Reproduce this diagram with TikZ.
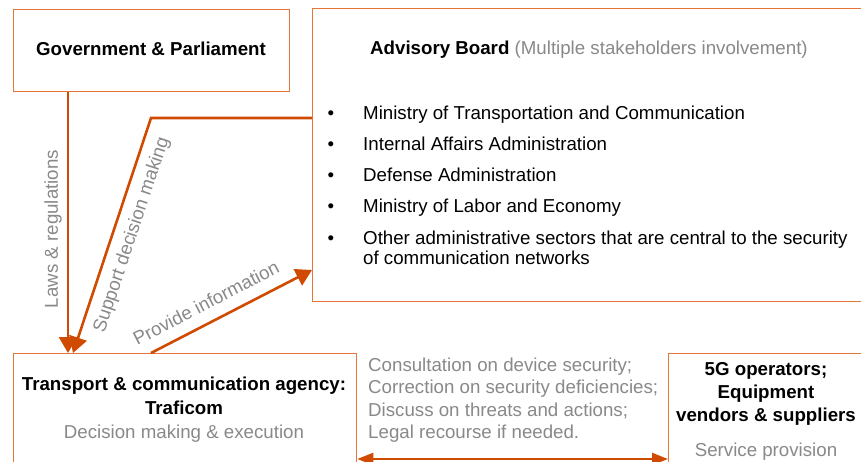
\documentclass[tikz,border=0pt]{standalone}
\usepackage{fontspec}
\setmainfont{Liberation Sans}
\usetikzlibrary{arrows.meta}
\definecolor{boxline}{HTML}{E57638}
\definecolor{accent}{HTML}{D04A02}
\definecolor{soft}{HTML}{898989}
\tikzset{
  box/.style={draw=boxline, line width=1.3pt, inner sep=0pt, anchor=north west},
  txt/.style={font=\fontsize{18.7}{22.4}\selectfont, inner sep=0pt},
  head/.style={txt, font=\fontsize{18.7}{22.4}\selectfont\bfseries},
  note/.style={txt, text=soft},
  flow/.style={draw=accent, line width=2.6pt, -{Triangle[length=16pt,width=18pt]}},
  both/.style={draw=accent, line width=2.4pt, {Triangle[length=16pt,width=12pt]}-{Triangle[length=16pt,width=12pt]}},
}
\begin{document}
\begin{tikzpicture}[x=1pt,y=-1pt]
\useasboundingbox (0,0) rectangle (861,462);
\clip (0,0) rectangle (861,462);
\fill[white] (0,0) rectangle (861,462);

% boxes
\node[box, minimum width=276, minimum height=82] (gov) at (13,9) {};
\node[box, minimum width=588, minimum height=293] (adv) at (312,8) {};
\node[box, minimum width=343, minimum height=150] (traf) at (13,353) {};
\node[box, minimum width=232, minimum height=150] (ops) at (668,353) {};

% government
\node[head, anchor=base] (govt) at (151,55.5) {Government \& Parliament};

% advisory board
\node[txt, anchor=base west] (advt) at (370,55) {\textbf{Advisory Board} \textcolor{soft}{(Multiple stakeholders involvement)}};
\foreach \y/\t [count=\i] in {120/Ministry of Transportation and Communication,
                               151/Internal Affairs Administration,
                               182/Defense Administration,
                               213/Ministry of Labor and Economy,
                               244/Other administrative sectors that are central to the security} {
  \node[txt, anchor=base] (dot\i) at (331,\y) {•};
  \node[txt, anchor=base west] (item\i) at (363,\y) {\t};
}
\node[txt, anchor=base west] (item6) at (363,264) {of communication networks};

% agency
\node[head, anchor=base] (traf1) at (184,390.5) {Transport \& communication agency:};
\node[head, anchor=base] (traf2) at (184,414.5) {Traficom};
\node[note, anchor=base] (traf3) at (184,438.5) {Decision making \& execution};

% dialogue between agency and industry
\node[note, anchor=base west] (dlg1) at (368,371.5) {Consultation on device security;};
\node[note, anchor=base west] (dlg2) at (368,393.8) {Correction on security deficiencies;};
\node[note, anchor=base west] (dlg3) at (368,416) {Discuss on threats and actions;};
\node[note, anchor=base west] (dlg4) at (368,438.2) {Legal recourse if needed.};

% operators and vendors
\node[head, anchor=base] (ops1) at (766,375) {5G operators;};
\node[head, anchor=base] (ops2) at (766,398.3) {Equipment};
\node[head, anchor=base] (ops3) at (766,421.6) {vendors \& suppliers};
\node[note, anchor=base] (ops4) at (766,456) {Service provision};

% connectors
\coordinate (bend) at (151,118);
\draw[flow] (gov.south -| 68,0) -- (traf.north -| 68,0);
\draw[flow] (adv.west |- bend) -- (bend) -- (traf.north -| 73,0);
\draw[flow] (traf.north -| 151,0) -- (adv.west |- 0,270);
\draw[both] (traf.east |- 0,459) -- (ops.west |- 0,459);

% connector labels
\node[note, rotate=90] (lawlbl) at (53,229) {Laws \& regulations};
\node[note, rotate=71.6] (suplbl) at (132,235) {Support decision making};
\node[note, rotate=27.3] (inflbl) at (206,303) {Provide information};
\end{tikzpicture}
\end{document}
